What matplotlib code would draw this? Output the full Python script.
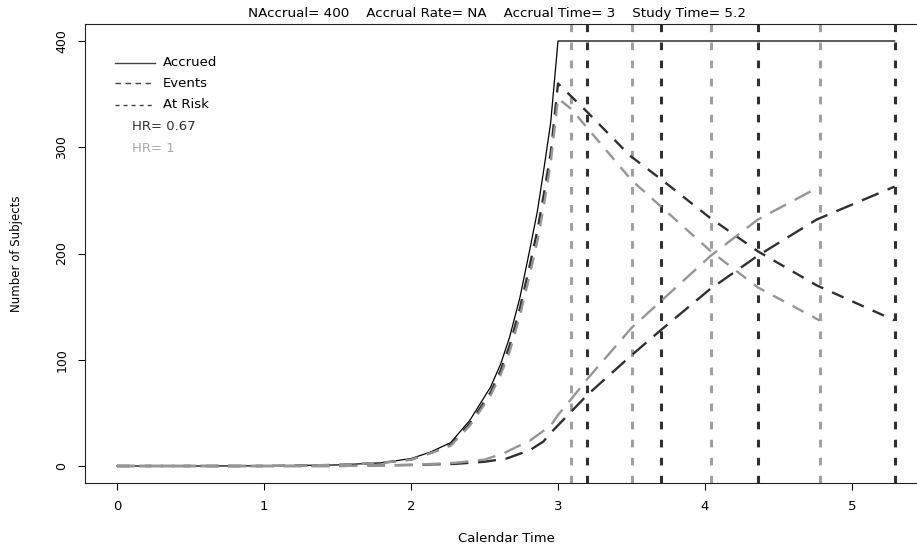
import matplotlib
matplotlib.use("Agg")
import matplotlib.pyplot as plt

plt.rcParams['font.family'] = 'DejaVu Sans'
plt.rcParams['lines.scale_dashes'] = False

# accrual curve (both HR share it)
acc_t = [0, 0.5, 1.0, 1.5, 1.8, 2.0, 2.13, 2.27, 2.40, 2.54, 2.61, 2.67, 2.74, 2.81, 2.86, 2.90, 2.95, 3.0, 5.29]
acc_n = [0, 0, 0.1, 1, 3, 7, 13, 22, 43, 74, 96, 121, 158, 205, 240, 276, 323, 400, 400]

# events, HR = 0.67 (dark) and HR = 1 (gray)
ev1_t = [0, 1.0, 1.5, 2.0, 2.3, 2.5, 2.65, 2.81, 2.90, 2.97, 3.2, 3.49, 3.7, 4.03, 4.36, 4.76, 5.29]
ev1_n = [0, 0, 0, 1, 2, 4, 7, 15, 23, 34, 67, 103, 128, 166, 198, 232, 263]
ev2_t = [0, 1.0, 1.5, 2.0, 2.3, 2.5, 2.63, 2.81, 2.95, 3.0, 3.09, 3.2, 3.5, 4.04, 4.36, 4.78]
ev2_n = [0, 0, 0, 1, 3, 6, 12, 24, 38, 48, 63, 82, 130, 198, 232, 263]

# at risk
ar1_t = [0, 1.0, 1.5, 1.8, 2.0, 2.13, 2.27, 2.40, 2.54, 2.61, 2.67, 2.74, 2.81, 2.86, 2.90, 2.95, 3.0,
         3.2, 3.49, 3.7, 4.03, 4.36, 4.76, 5.29]
ar1_n = [0, 0, 1, 3, 6, 12, 20, 40, 69, 90, 113, 148, 190, 222, 253, 294, 360,
         333, 292, 270, 234, 202, 170, 137]
ar2_t = [0, 1.0, 1.5, 1.8, 2.0, 2.13, 2.27, 2.40, 2.54, 2.61, 2.67, 2.74, 2.81, 2.86, 2.90, 2.95, 3.0,
         3.09, 3.5, 4.04, 4.36, 4.78]
ar2_n = [0, 0, 1, 3, 6, 12, 19, 38, 66, 86, 107, 141, 181, 212, 242, 285, 346,
         336, 269, 202, 168, 137]

# analysis times
an1 = [3.20, 3.70, 4.36, 5.29]
an2 = [3.09, 3.50, 4.04, 4.78]

dark = '#303030'
gray = '#969696'

W, H = 917, 548
fig = plt.figure(figsize=(W / 100, H / 100), dpi=100)
ax = fig.add_axes([85 / W, 65 / H, 842 / W, 459 / H])

for t in an2:
    ax.axvline(t, color='#a0a0a0', lw=2.2, dashes=(5.5, 7.5))
for t in an1:
    ax.axvline(t, color=dark, lw=2.2, dashes=(5.5, 7.5))

ax.plot(acc_t, acc_n, color='black', lw=0.9)
ax.plot(ev1_t, ev1_n, color=dark, lw=1.7, dashes=(13, 7))
ax.plot(ar1_t, ar1_n, color=dark, lw=1.7, dashes=(9, 7))
ax.plot(ev2_t, ev2_n, color=gray, lw=1.7, dashes=(13, 7))
ax.plot(ar2_t, ar2_n, color=gray, lw=1.7, dashes=(9, 7))

ax.set_xlim(-0.2177, 5.510)
ax.set_ylim(-16, 416)
ax.set_xticks([0, 1, 2, 3, 4, 5])
ax.set_yticks([0, 100, 200, 300, 400])
ax.tick_params(axis='x', length=5, width=0.75, pad=7, labelsize=9.5)
ax.tick_params(axis='y', length=5, width=0.75, pad=7, labelsize=9)
for lab in ax.get_yticklabels():
    lab.set_rotation(90)
    lab.set_va('center')
for s in ax.spines.values():
    s.set_linewidth(0.8)
    s.set_color('#222222')

ax.set_xlabel('Calendar Time', fontsize=9.5, labelpad=14)
ax.set_ylabel('Number of Subjects', fontsize=8.5, labelpad=23)

fig.text(497 / W, 1 - 14 / H,
         'NAccrual= 400    Accrual Rate= NA    Accrual Time= 3    Study Time= 5.2',
         ha='center', va='center', fontsize=9.7)

# legend, drawn by hand like R's legend()
def fx(px):
    return px / W

def fy(py):
    return 1 - py / H

leg_c = '#444444'
fig.add_artist(plt.Line2D([fx(115), fx(155)], [fy(63), fy(63)], color=leg_c, lw=1.0))
fig.add_artist(plt.Line2D([fx(115), fx(155)], [fy(83), fy(83)], color=leg_c, lw=1.0, dashes=(4, 3.2)))
fig.add_artist(plt.Line2D([fx(115), fx(155)], [fy(105), fy(105)], color=leg_c, lw=1.0, dashes=(2.9, 2.9)))
fig.text(fx(163), fy(63), 'Accrued', va='center', fontsize=9.5)
fig.text(fx(163), fy(83), 'Events', va='center', fontsize=9.5)
fig.text(fx(163), fy(105), 'At Risk', va='center', fontsize=9.5)
fig.text(fx(132), fy(127), 'HR= 0.67', va='center', fontsize=9.5, color=dark)
fig.text(fx(132), fy(148), 'HR= 1', va='center', fontsize=9.5, color='#a8a8a8')

fig.savefig('out.png', dpi=100)
